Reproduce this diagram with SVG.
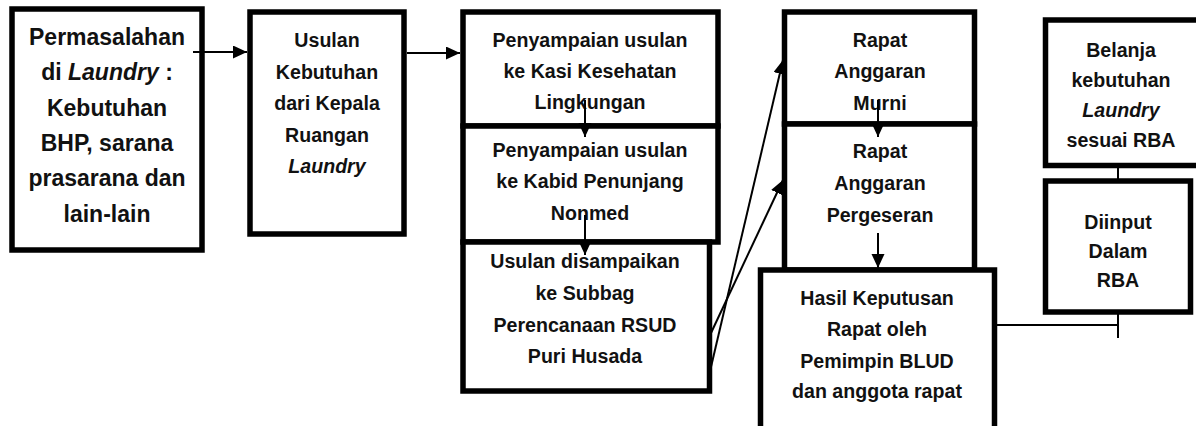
<svg xmlns="http://www.w3.org/2000/svg" width="1196" height="426" viewBox="0 0 1196 426">
<style>
.box{fill:#fff;stroke:#000;stroke-width:5.5}
.t{font-family:"Liberation Sans",Arial,sans-serif;font-weight:bold;font-size:19.6px;fill:#111;text-anchor:middle}
.big{font-size:23px}
.i{font-style:italic}
.c{fill:none;stroke:#000;stroke-width:2}
</style>
<defs>
<marker id="ah" markerUnits="userSpaceOnUse" markerWidth="16" markerHeight="14" refX="14" refY="6.5" orient="auto">
<path d="M0,0 L14,6.5 L0,13 Z" fill="#000"/>
</marker>
</defs>
<rect width="1196" height="426" fill="#fff"/>
<g id="n1">
<rect class="box" x="12" y="9" width="190" height="241"/>
<text class="t big" x="107"><tspan x="107" y="45">Permasalahan</tspan><tspan x="107" y="80">di <tspan class="i">Laundry</tspan> :</tspan><tspan x="107" y="116">Kebutuhan</tspan><tspan x="107" y="151">BHP, sarana</tspan><tspan x="107" y="186">prasarana dan</tspan><tspan x="107" y="222">lain-lain</tspan></text>
</g>
<g id="n2">
<rect class="box" x="250" y="12" width="154" height="222"/>
<text class="t" x="327"><tspan x="327" y="47">Usulan</tspan><tspan x="327" y="78.5">Kebutuhan</tspan><tspan x="327" y="110">dari Kepala</tspan><tspan x="327" y="141.5">Ruangan</tspan><tspan x="327" y="173" class="i">Laundry</tspan></text>
</g>
<g id="n3a">
<rect class="box" x="463" y="12" width="255" height="114"/>
<text class="t" x="590"><tspan x="590" y="47">Penyampaian usulan</tspan><tspan x="590" y="78">ke Kasi Kesehatan</tspan><tspan x="590" y="109">Lingkungan</tspan></text>
</g>
<g id="n3b">
<rect class="box" x="463" y="126" width="255" height="116"/>
<text class="t" x="590"><tspan x="590" y="157">Penyampaian usulan</tspan><tspan x="590" y="188">ke Kabid Penunjang</tspan><tspan x="590" y="220">Nonmed</tspan></text>
</g>
<g id="n3c">
<rect class="box" x="463" y="242" width="246.5" height="149"/>
<text class="t" x="585"><tspan x="585" y="268">Usulan disampaikan</tspan><tspan x="585" y="300">ke Subbag</tspan><tspan x="585" y="332">Perencanaan RSUD</tspan><tspan x="585" y="363">Puri Husada</tspan></text>
</g>
<g id="n4a">
<rect class="box" x="784.5" y="12" width="190" height="112"/>
<text class="t" x="880"><tspan x="880" y="47">Rapat</tspan><tspan x="880" y="78">Anggaran</tspan><tspan x="880" y="110">Murni</tspan></text>
</g>
<g id="n4b">
<rect class="box" x="784.5" y="124" width="190" height="146"/>
<text class="t" x="880"><tspan x="880" y="158">Rapat</tspan><tspan x="880" y="190">Anggaran</tspan><tspan x="880" y="222">Pergeseran</tspan></text>
</g>
<g id="n5">
<rect class="box" x="760.5" y="270" width="234" height="170"/>
<text class="t" x="877"><tspan x="877" y="305">Hasil Keputusan</tspan><tspan x="877" y="336">Rapat oleh</tspan><tspan x="877" y="368">Pemimpin BLUD</tspan><tspan x="877" y="398">dan anggota rapat</tspan></text>
</g>
<g id="n6">
<rect class="box" x="1045.5" y="20" width="160" height="145.5"/>
<text class="t" x="1121"><tspan x="1121" y="57">Belanja</tspan><tspan x="1121" y="87">kebutuhan</tspan><tspan x="1121" y="117" class="i">Laundry</tspan><tspan x="1121" y="147">sesuai RBA</tspan></text>
</g>
<g id="n7">
<rect class="box" x="1045.5" y="181" width="145" height="131"/>
<text class="t" x="1118"><tspan x="1118" y="229">Diinput</tspan><tspan x="1118" y="258">Dalam</tspan><tspan x="1118" y="287">RBA</tspan></text>
</g>
<g id="connectors">
<line class="c" x1="193" y1="52" x2="247" y2="52" marker-end="url(#ah)"/>
<line class="c" x1="407" y1="53" x2="460" y2="53" marker-end="url(#ah)"/>
<line class="c" x1="585" y1="100" x2="585" y2="137" marker-end="url(#ah)"/>
<line class="c" x1="585" y1="215" x2="585" y2="255" marker-end="url(#ah)"/>
<line class="c" x1="711" y1="367" x2="783" y2="60" marker-end="url(#ah)"/>
<line class="c" x1="711" y1="333" x2="783" y2="180" marker-end="url(#ah)"/>
<line class="c" x1="878" y1="100" x2="878" y2="137" marker-end="url(#ah)"/>
<line class="c" x1="878" y1="233" x2="878" y2="268" marker-end="url(#ah)"/>
<line class="c" x1="1118" y1="167" x2="1118" y2="179"/>
<line class="c" x1="1118" y1="314" x2="1118" y2="338"/>
<line class="c" x1="997" y1="325" x2="1118" y2="325"/>
</g>
</svg>
